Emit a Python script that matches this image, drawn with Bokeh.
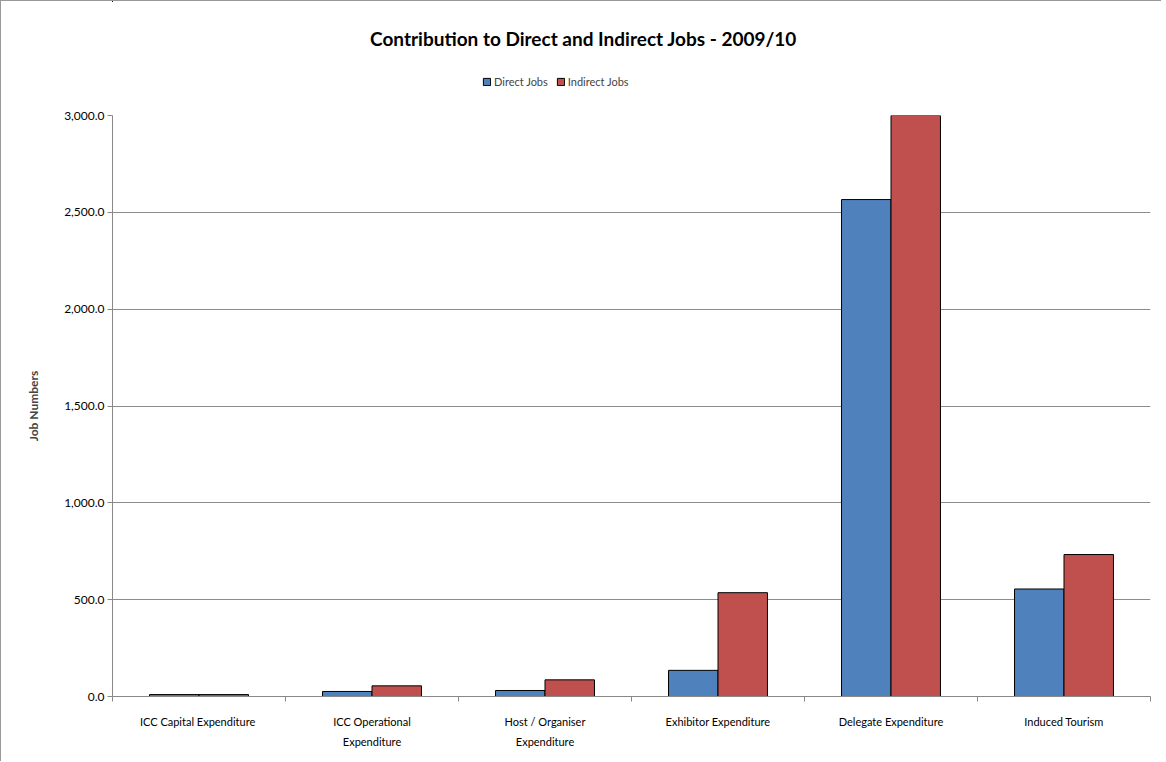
from bokeh.plotting import figure
from bokeh.models import (Range1d, FixedTicker, NumeralTickFormatter, Legend, LegendItem,
                          ColumnDataSource, LinearAxis, Grid, Label)
from bokeh.layouts import column
from bokeh.embed import file_html
from bokeh.resources import INLINE

# ---- data ----
categories = ["ICC Capital Expenditure", "ICC Operational Expenditure",
              "Host / Organiser Expenditure", "Exhibitor Expenditure",
              "Delegate Expenditure", "Induced Tourism"]
category_labels = ["ICC Capital  Expenditure", "ICC Operational\nExpenditure",
                   "Host / Organiser\nExpenditure", "Exhibitor Expenditure",
                   "Delegate Expenditure", "Induced Tourism"]
direct_jobs = [10, 26, 31, 135, 2566, 555]
indirect_jobs = [10, 55, 86, 536, 3200, 733]
y_ticks = [0, 500, 1000, 1500, 2000, 2500, 3000]
series_names = ["Direct Jobs", "Indirect Jobs"]

title_text = "Contribution to Direct and Indirect Jobs - 2009/10"
FONT = "Lato"
BLUE = "#4F81BD"
RED = "#C0504D"

n = len(categories)
centers = [i + 0.5 for i in range(n)]
bw = 0.286
src = ColumnDataSource(dict(
    xd=[c - bw / 2 for c in centers],
    xi=[c + bw / 2 for c in centers],
    d=direct_jobs, ind=indirect_jobs))

W = 1160
HEAD_H = 100
MAIN_H = 660
LEFT = 111
RIGHT = 11

# ---------- header (title + legend) ----------
head = figure(width=W, height=HEAD_H, output_backend="svg", toolbar_location=None,
              x_range=Range1d(100, 101), y_range=Range1d(-101, -100),
              min_border_left=LEFT, min_border_right=RIGHT, min_border_top=0,
              min_border_bottom=0, x_axis_type=None, y_axis_type=None)
head.outline_line_color = None
head.xgrid.visible = False
head.ygrid.visible = False
head.add_layout(Label(x=471, y=63, x_units="screen", y_units="screen",
                      text=title_text, text_align="center", text_baseline="middle",
                      text_font=FONT, text_font_style="bold", text_font_size="19px",
                      text_color="black"))
# legend swatches (series kept outside the header's visible ranges)
d1 = head.vbar(x="xd", top="d", width=bw, source=src, fill_color=BLUE, line_color="black")
d2 = head.vbar(x="xi", top="ind", width=bw, source=src, fill_color=RED, line_color="black")
legend = Legend(items=[LegendItem(label=series_names[0], renderers=[d1]),
                       LegendItem(label=series_names[1], renderers=[d2])],
                orientation="horizontal", location=(370, 13),
                label_text_font=FONT, label_text_font_size="11px",
                glyph_width=9, glyph_height=9, label_standoff=3, spacing=8,
                border_line_color=None, background_fill_alpha=0,
                padding=2, margin=0, label_height=12)
head.add_layout(legend)

# ---------- main chart ----------
p = figure(width=W, height=MAIN_H, output_backend="svg", toolbar_location=None,
           x_range=Range1d(0, n), y_range=Range1d(0, 3000),
           min_border_left=LEFT, min_border_right=RIGHT, min_border_top=14,
           min_border_bottom=65, x_axis_type=None, y_axis_type=None)
p.outline_line_color = None
p.background_fill_color = "white"
p.border_fill_color = "white"

ya = LinearAxis(ticker=FixedTicker(ticks=y_ticks, minor_ticks=[]),
                formatter=NumeralTickFormatter(format="0,0.0"))
ya.axis_label = "Job Numbers"
ya.axis_label_text_font = FONT
ya.axis_label_text_font_style = "bold"
ya.axis_label_text_font_size = "12px"
ya.axis_label_standoff = 20
ya.major_label_text_font = FONT
ya.major_label_text_font_size = "12px"
ya.major_label_text_color = "black"
ya.major_tick_out = 5
ya.major_tick_in = 0
ya.major_tick_line_color = "#888888"
ya.axis_line_color = "#888888"
ya.minor_tick_line_color = None
ya.major_label_standoff = 3
p.add_layout(ya, "left")

grid = Grid(dimension=1, ticker=FixedTicker(ticks=y_ticks), grid_line_color="#8C8C8C",
            grid_line_width=1)
p.add_layout(grid)

p.vbar(x="xd", top="d", width=bw, source=src, fill_color=BLUE,
       line_color="black", line_width=1)
p.vbar(x="xi", top="ind", width=bw, source=src, fill_color=RED,
       line_color="black", line_width=1)

xa = LinearAxis(ticker=FixedTicker(ticks=centers, minor_ticks=list(range(n + 1))))
xa.major_label_overrides = {c: lab for c, lab in zip(centers, category_labels)}
xa.major_tick_line_color = None
xa.major_tick_out = 0
xa.major_tick_in = 0
xa.minor_tick_line_color = "#888888"
xa.minor_tick_out = 5
xa.minor_tick_in = 0
xa.axis_line_color = "#888888"
xa.major_label_text_font = FONT
xa.major_label_text_font_size = "11px"
xa.major_label_text_color = "black"
xa.major_label_text_line_height = 1.6
xa.major_label_standoff = 13
p.add_layout(xa, "below")

layout = column(head, p, spacing=0)
layout.styles = {"border-top": "1px solid #999999", "border-left": "1px solid #999999"}

open("out.html", "w").write(file_html(layout, INLINE))
